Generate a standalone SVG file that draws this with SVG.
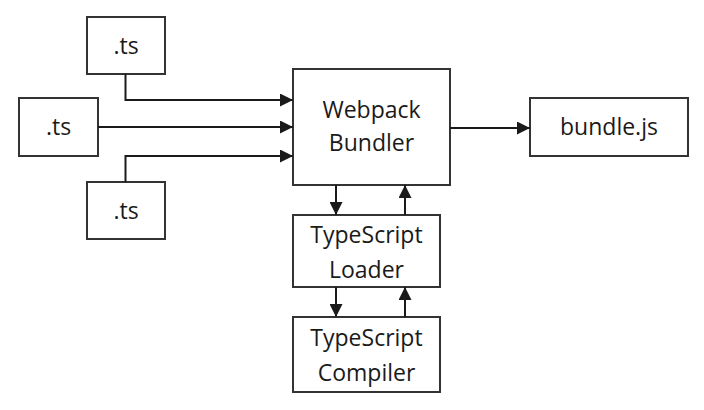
<svg xmlns="http://www.w3.org/2000/svg" width="704" height="410" viewBox="0 0 704 410">
<defs>
<marker id="ah" viewBox="0 0 12 12" refX="12" refY="6" markerWidth="13" markerHeight="13" markerUnits="userSpaceOnUse" orient="auto">
<path d="M0,0 L12,6 L0,12 Z" fill="#1a1a1a"/>
</marker>
<style>
.box{fill:#fff;stroke:#333;stroke-width:2}
.lbl{font-family:"Open Sans","Noto Sans",sans-serif;font-size:23px;fill:#1a1a1a;text-anchor:middle}
.con{fill:none;stroke:#1a1a1a;stroke-width:2;marker-end:url(#ah)}
</style>
</defs>
<rect width="704" height="410" fill="#fff"/>
<g id="ts1"><rect class="box" x="87" y="17" width="78" height="57"/><text class="lbl" x="126" y="54">.ts</text></g>
<g id="ts2"><rect class="box" x="19" y="98" width="79" height="58"/><text class="lbl" x="58.5" y="135">.ts</text></g>
<g id="ts3"><rect class="box" x="87" y="182" width="78" height="57"/><text class="lbl" x="126" y="219">.ts</text></g>
<g id="webpack"><rect class="box" x="293" y="69" width="157" height="116"/><text class="lbl" x="371.5" y="118">Webpack</text><text class="lbl" x="371.5" y="151">Bundler</text></g>
<g id="bundle"><rect class="box" x="530" y="98" width="158" height="58"/><text class="lbl" x="609" y="135">bundle.js</text></g>
<g id="loader"><rect class="box" x="293" y="215" width="147" height="72"/><text class="lbl" x="366.5" y="243">TypeScript</text><text class="lbl" x="366.5" y="278">Loader</text></g>
<g id="compiler"><rect class="box" x="293" y="317" width="147" height="75"/><text class="lbl" x="366.5" y="346">TypeScript</text><text class="lbl" x="366.5" y="381">Compiler</text></g>
<g id="connectors">
<path class="con" d="M125.5,74 V100 H293"/>
<path class="con" d="M98,127 H293"/>
<path class="con" d="M125.5,182 V156 H293"/>
<path class="con" d="M450,128 H530"/>
<path class="con" d="M336,185 V215"/>
<path class="con" d="M405,215 V185"/>
<path class="con" d="M336,287 V317"/>
<path class="con" d="M405,317 V287"/>
</g>
</svg>
